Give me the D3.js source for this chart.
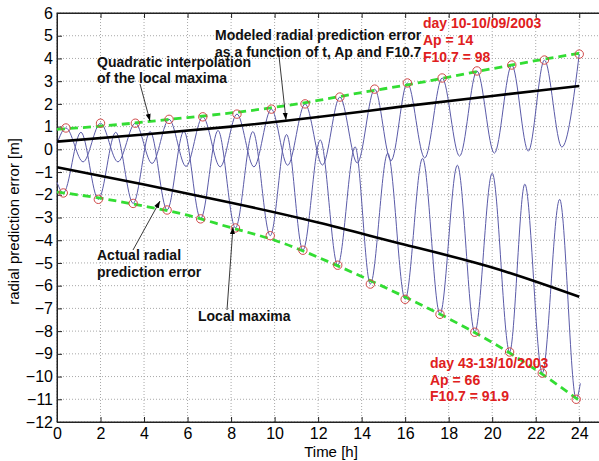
<!DOCTYPE html>
<html>
<head>
<meta charset="utf-8">
<script src="https://cdn.jsdelivr.net/npm/d3@7"></script>
<style>
  html, body { margin: 0; padding: 0; background: #fff; }
  svg { display: block; }
  text { font-family: "Liberation Sans", Arial, sans-serif; }
</style>
</head>
<body>
<svg id="chart" width="599" height="461"></svg>
<script>
// ---------------- data ----------------
const xTicks = [0, 2, 4, 6, 8, 10, 12, 14, 16, 18, 20, 22, 24];
const yTicks = [6, 5, 4, 3, 2, 1, 0, -1, -2, -3, -4, -5, -6, -7, -8, -9, -10, -11, -12];

// Day 10 curve: local maxima (circled) and the troughs between them
const day10MaxT = [0.41, 2.0, 3.6, 5.15, 6.7, 8.27, 9.85, 11.4, 13.0, 14.6, 16.1, 17.7, 19.3, 20.9, 22.4, 24.0];
const day10MaxV = [0.94, 1.15, 1.15, 1.32, 1.43, 1.55, 1.77, 2.0, 2.3, 2.65, 2.92, 3.14, 3.45, 3.71, 3.93, 4.19];
const day10MinT = [1.2, 2.8, 4.37, 5.93, 7.5, 9.05, 10.6, 12.2, 13.8, 15.35, 16.9, 18.5, 20.1, 21.66, 23.2];
const day10MinV = [-0.55, -0.55, -0.62, -0.75, -0.77, -0.77, -0.7, -0.69, -0.6, -0.5, -0.38, -0.3, -0.17, -0.08, 0.1];
const day10Start = [0, 0.25];

// Day 43 curve: local extrema of largest magnitude (circled) and the peaks between them
const day43MinT = [0.29, 1.9, 3.5, 5.06, 6.6, 8.2, 9.8, 11.3, 12.9, 14.4, 16.0, 17.6, 19.2, 20.8, 22.3, 23.86];
const day43MinV = [-1.92, -2.2, -2.38, -2.67, -3.06, -3.46, -3.8, -4.44, -5.1, -5.93, -6.6, -7.26, -8.05, -8.92, -9.85, -11.0];
const day43MaxT = [1.1, 2.7, 4.28, 5.83, 7.4, 9.0, 10.55, 12.1, 13.7, 15.2, 16.8, 18.4, 20.0, 21.5, 23.1];
const day43MaxV = [0.75, 0.75, 0.78, 0.8, 0.83, 0.78, 0.65, 0.41, 0.11, -0.17, -0.4, -0.7, -1.05, -1.53, -2.2];
const day43Start = [0, -1.45];
const day43End = [24.05, -10.3];

// Quadratic interpolation of the local maxima (green dashed)
const envT = [0, 2, 4, 6, 8, 10, 12, 14, 16, 18, 20, 22, 24];
const envUpperV = [0.88, 1.02, 1.2, 1.4, 1.6, 1.85, 2.15, 2.5, 2.82, 3.18, 3.55, 3.9, 4.23];
const envLowerV = [-1.88, -2.15, -2.5, -2.9, -3.45, -4.0, -4.75, -5.6, -6.5, -7.45, -8.5, -9.7, -11.05];

// Modeled radial prediction error (black)
const modelT = [0, 4, 8, 12, 16, 20, 24];
const modelUpperV = [0.34, 0.65, 1.0, 1.42, 1.9, 2.35, 2.79];
const modelLowerV = [-0.79, -1.55, -2.35, -3.22, -4.2, -5.2, -6.49];

// ---------------- chart ----------------
const svg = d3.select("#chart");
const x = d3.scaleLinear().domain([0, 25]).range([57, 601]);
const y = d3.scaleLinear().domain([-12, 6]).range([422, 13]);

// grid
const grid = svg.append("g");
grid.selectAll("line.gx").data(xTicks).join("line")
  .attr("x1", d => x(d)).attr("x2", d => x(d))
  .attr("y1", y(6)).attr("y2", y(-12))
  .attr("stroke", "#a8a8a8").attr("stroke-width", 1).attr("stroke-dasharray", "1,2");
grid.selectAll("line.gy").data(yTicks).join("line")
  .attr("x1", x(0)).attr("x2", x(25))
  .attr("y1", d => y(d)).attr("y2", d => y(d))
  .attr("stroke", "#a8a8a8").attr("stroke-width", 1).attr("stroke-dasharray", "1,2");

// box
svg.append("rect").attr("x", x(0)).attr("y", y(6))
  .attr("width", x(25) - x(0)).attr("height", y(-12) - y(6))
  .attr("fill", "none").attr("stroke", "#222").attr("stroke-width", 1);

// axes
const xAxis = svg.append("g").attr("transform", `translate(0,${y(-12)})`)
  .call(d3.axisBottom(x).tickValues(xTicks).tickSizeInner(-5).tickSizeOuter(0).tickPadding(6));
const xTop = svg.append("g").attr("transform", `translate(0,${y(6)})`)
  .call(d3.axisTop(x).tickValues(xTicks).tickSizeInner(-5).tickSizeOuter(0).tickFormat(""));
const yAxis = svg.append("g").attr("transform", `translate(${x(0)},0)`)
  .call(d3.axisLeft(y).tickValues(yTicks).tickSizeInner(-5).tickSizeOuter(0).tickPadding(4));
[xAxis, xTop, yAxis].forEach(g => {
  g.select(".domain").attr("stroke", "#222");
  g.selectAll(".tick line").attr("stroke", "#222");
  g.selectAll("text").attr("font-size", 16).attr("fill", "#000")
    .attr("font-family", "'Liberation Sans', Arial, sans-serif");
});

// axis labels
svg.append("text").attr("transform", `translate(19,${(y(6) + y(-12)) / 2 + 4}) rotate(-90)`)
  .attr("text-anchor", "middle").attr("font-size", 15).text("radial prediction error [m]");
svg.append("text").attr("x", (x(0) + x(25)) / 2 + 2).attr("y", 457)
  .attr("text-anchor", "middle").attr("font-size", 15).text("Time [h]");

// actual curves built from extrema
function merge(start, aT, aV, bT, bV, end) {
  const pts = [];
  if (start) pts.push(start);
  aT.forEach((t, i) => pts.push([t, aV[i]]));
  bT.forEach((t, i) => pts.push([t, bV[i]]));
  if (end) pts.push(end);
  return pts.sort((p, q) => p[0] - q[0]);
}
const day10 = merge(day10Start, day10MaxT, day10MaxV, day10MinT, day10MinV, null);
const day43 = merge(day43Start, day43MinT, day43MinV, day43MaxT, day43MaxV, day43End);

const smooth = d3.line().x(d => x(d[0])).y(d => y(d[1])).curve(d3.curveMonotoneX);
const plot = svg.append("g");
[day10, day43].forEach(pts => {
  plot.append("path").attr("d", smooth(pts))
    .attr("fill", "none").attr("stroke", "#5a5aa8").attr("stroke-width", 1);
});

// model (black)
const lineFn = d3.line().x(d => x(d[0])).y(d => y(d[1])).curve(d3.curveNatural);
[modelUpperV, modelLowerV].forEach(vals => {
  plot.append("path").attr("d", lineFn(modelT.map((t, i) => [t, vals[i]])))
    .attr("fill", "none").attr("stroke", "#000").attr("stroke-width", 2.6);
});

// green dashed envelopes
[envUpperV, envLowerV].forEach(vals => {
  plot.append("path").attr("d", lineFn(envT.map((t, i) => [t, vals[i]])))
    .attr("fill", "none").attr("stroke", "#33dd33").attr("stroke-width", 2.8)
    .attr("stroke-dasharray", "8,5");
});

// circled extrema
const marks = day10MaxT.map((t, i) => [t, day10MaxV[i]])
  .concat(day43MinT.map((t, i) => [t, day43MinV[i]]));
plot.selectAll("circle.m").data(marks).join("circle")
  .attr("cx", d => x(d[0])).attr("cy", d => y(d[1])).attr("r", 4.2)
  .attr("fill", "none").attr("stroke", "#d04848").attr("stroke-width", 1);

// arrows
const defs = svg.append("defs");
defs.append("marker").attr("id", "ah").attr("viewBox", "0 0 10 10")
  .attr("refX", 10).attr("refY", 5).attr("markerWidth", 8).attr("markerHeight", 8)
  .attr("orient", "auto-start-reverse")
  .append("path").attr("d", "M0,1.5 L10,5 L0,8.5 Z").attr("fill", "#000");
const arrows = [
  [278, 47, 286, 120],
  [140, 84, 150, 121],
  [133, 250, 160, 201],
  [227, 310, 233, 227]
];
svg.selectAll("line.arr").data(arrows).join("line")
  .attr("x1", d => d[0]).attr("y1", d => d[1]).attr("x2", d => d[2]).attr("y2", d => d[3])
  .attr("stroke", "#222").attr("stroke-width", 0.9).attr("marker-end", "url(#ah)");

// annotations
const notes = [
  ["Modeled radial prediction error", 215, 40, "#111"],
  ["as a function of t, Ap and F10.7", 215, 57, "#111"],
  ["Quadratic interpolation", 97, 67, "#111"],
  ["of the local maxima", 97, 83, "#111"],
  ["Actual radial", 97, 260, "#111"],
  ["prediction error", 97, 277, "#111"],
  ["Local maxima", 198, 321, "#111"],
  ["day 10-10/09/2003", 423, 28, "#e02020"],
  ["Ap = 14", 423, 45, "#e02020"],
  ["F10.7 = 98", 423, 62, "#e02020"],
  ["day 43-13/10/2003", 430, 368, "#e02020"],
  ["Ap = 66", 430, 385, "#e02020"],
  ["F10.7 = 91.9", 430, 401, "#e02020"]
];
svg.selectAll("text.note").data(notes).join("text")
  .attr("x", d => d[1]).attr("y", d => d[2]).attr("fill", d => d[3])
  .attr("font-size", 14).attr("font-weight", "bold").text(d => d[0]);
</script>
</body>
</html>
